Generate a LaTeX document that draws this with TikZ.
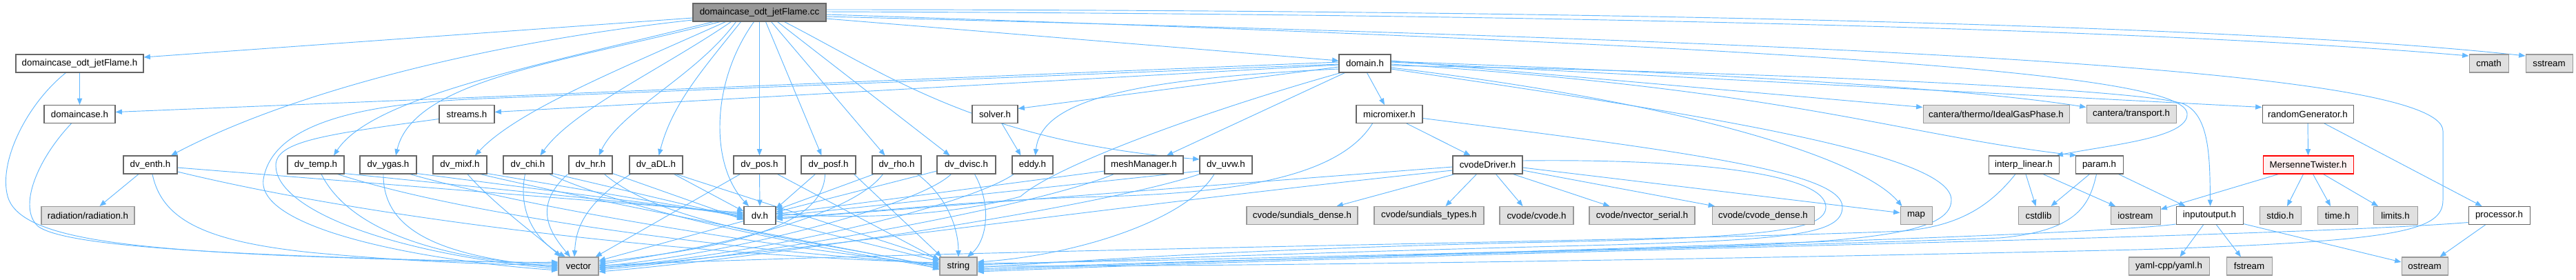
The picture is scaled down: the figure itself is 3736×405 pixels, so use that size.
\documentclass[tikz,border=0pt]{standalone}
\usepackage{fontspec}
\setmainfont{Liberation Sans}
\usetikzlibrary{calc,arrows.meta}
\definecolor{edgec}{HTML}{63B8FF}
\definecolor{bord}{HTML}{666666}
\definecolor{extb}{HTML}{999999}
\definecolor{extf}{HTML}{E0E0E0}
\definecolor{mainf}{HTML}{999999}
\definecolor{redf}{HTML}{FFF0F0}
\definecolor{redb}{HTML}{FF0000}
\pgfdeclarelayer{bg}
\pgfsetlayers{bg,main}
\begin{document}
\begin{tikzpicture}[x=0.75pt,y=-0.75pt,
  file/.style={draw=bord, fill=white, line width=0.8pt, minimum height=19.5pt, inner sep=0pt, font=\fontsize{10}{12}\selectfont, text=black},
  ext/.style={file, draw=extb, fill=extf},
  top/.style={file, fill=mainf},
  hot/.style={file, draw=redb, fill=redf},
  wd/.style={minimum width=#1*0.75pt},
  edge/.style={draw=edgec, line width=0.7pt, -{Triangle[length=7pt,width=5.5pt]}}]
\useasboundingbox (0,0) rectangle (3736,405);
% row 0
\node[top, wd=193] (cc) at (1101.5,18) {domaincase\_odt\_jetFlame.cc};
% row 1
\node[file, wd=185] (jfh) at (115.5,92) {domaincase\_odt\_jetFlame.h};
\node[file, wd=75] (domain) at (1979.5,92) {domain.h};
\node[ext, wd=57] (cmath) at (3609.5,92) {cmath};
\node[ext, wd=68] (sstream) at (3697,92) {sstream};
% row 2
\node[file, wd=103] (dcase) at (115.5,165.5) {domaincase.h};
\node[file, wd=80] (streams) at (677,165.5) {streams.h};
\node[file, wd=66] (solver) at (1443,165.5) {solver.h};
\node[file, wd=96] (micro) at (2015,165.5) {micromixer.h};
\node[ext, wd=212] (ideal) at (2895,165.5) {cantera/thermo/IdealGasPhase.h};
\node[ext, wd=130] (transport) at (3091,165.5) {cantera/transport.h};
\node[file, wd=132] (rgen) at (3347,165.5) {randomGenerator.h};
% row 3
\node[file, wd=78] (enth) at (218,239) {dv\_enth.h};
\node[file, wd=82] (temp) at (458,239) {dv\_temp.h};
\node[file, wd=82] (ygas) at (563,239) {dv\_ygas.h};
\node[file, wd=78] (mixf) at (667,239) {dv\_mixf.h};
\node[file, wd=71] (chi) at (765.5,239) {dv\_chi.h};
\node[file, wd=63] (hr) at (856.5,239) {dv\_hr.h};
\node[file, wd=77] (adl) at (951.5,239) {dv\_aDL.h};
\node[file, wd=75] (pos) at (1101.5,239) {dv\_pos.h};
\node[file, wd=79] (posf) at (1201.5,239) {dv\_posf.h};
\node[file, wd=71] (rho) at (1300.5,239) {dv\_rho.h};
\node[file, wd=85] (dvisc) at (1401.5,239) {dv\_dvisc.h};
\node[file, wd=59] (eddy) at (1497.5,239) {eddy.h};
\node[file, wd=114] (mesh) at (1659,239) {meshManager.h};
\node[file, wd=76] (uvw) at (1778,239) {dv\_uvw.h};
\node[file, wd=101] (cvd) at (2157.5,239) {cvodeDriver.h};
\node[file, wd=102] (interp) at (2935,239) {interp\_linear.h};
\node[file, wd=69] (param) at (3044.5,239) {param.h};
\node[hot, wd=131] (mt) at (3347.5,239) {MersenneTwister.h};
% row 4
\node[ext, wd=135] (rad) at (127.5,312.5) {radiation/radiation.h};
\node[file, wd=46] (dvh) at (1102,312.5) {dv.h};
\node[ext, wd=161] (sdense) at (1888.5,312.5) {cvode/sundials\_dense.h};
\node[ext, wd=159] (stypes) at (2072.5,312.5) {cvode/sundials\_types.h};
\node[ext, wd=107] (cvode) at (2228.5,312.5) {cvode/cvode.h};
\node[ext, wd=153] (nvec) at (2381.5,312.5) {cvode/nvector\_serial.h};
\node[ext, wd=148] (cdense) at (2557,312.5) {cvode/cvode\_dense.h};
\node[ext, wd=46] (map) at (2779,312.5) {map};
\node[ext, wd=59] (cstdlib) at (2956.5,312.5) {cstdlib};
\node[ext, wd=72] (iostream) at (3097,312.5) {iostream};
\node[file, wd=97] (io) at (3204.5,312.5) {inputoutput.h};
\node[ext, wd=60] (stdio) at (3307,312.5) {stdio.h};
\node[ext, wd=58] (timeh) at (3390,312.5) {time.h};
\node[ext, wd=64] (limits) at (3474,312.5) {limits.h};
\node[file, wd=89] (proc) at (3624.5,312.5) {processor.h};
% row 5
\node[ext, wd=58] (vector) at (839,386) {vector};
\node[ext, wd=54] (string) at (1390,386) {string};
\node[ext, wd=117] (yaml) at (3145.5,386) {yaml-cpp/yaml.h};
\node[ext, wd=66] (fstream) at (3262,386) {fstream};
\node[ext, wd=67] (ostream) at (3516.5,386) {ostream};

\begin{pgfonlayer}{bg}
% ---- domaincase_odt_jetFlame.cc
\draw[edge] ($(cc.west)+(0,8)$) -- ($(jfh.east)+(0,-9)$);
\draw[edge] ($(cc.west)+(0,11)$) .. controls (700,62) and (420,135) .. ($(enth.north)+(30,0)$);
\draw[edge] ($(cc.south west)+(30,0)$) .. controls (780,95) and (540,140) .. ($(temp.north)+(26,0)$);
\draw[edge] ($(cc.south west)+(40,0)$) .. controls (820,90) and (600,115) .. ($(ygas.north)+(11,0)$);
\draw[edge] ($(cc.south west)+(48,0)$) .. controls (900,100) and (750,160) .. ($(mixf.north)+(22,0)$);
\draw[edge] ($(cc.south west)+(56,0)$) .. controls (960,100) and (830,160) .. ($(chi.north)+(18,0)$);
\draw[edge] ($(cc.south west)+(63,0)$) .. controls (1010,110) and (900,160) .. ($(hr.north)+(12,0)$);
\draw[edge] ($(cc.south west)+(70,0)$) .. controls (1020,100) and (975,150) .. ($(adl.north)+(4,0)$);
\draw[edge] ($(cc.south)+(-8,0)$) .. controls (1030,120) and (1030,240) .. ($(dvh.north)+(-16,0)$);
\draw[edge] (cc.south) -- (pos.north);
\draw[edge] ($(cc.south)+(9,0)$) -- ($(posf.north)+(-10,0)$);
\draw[edge] ($(cc.south)+(17,0)$) -- ($(rho.north)+(-17,0)$);
\draw[edge] ($(cc.south)+(26,0)$) -- ($(dvisc.north)+(-24,0)$);
\draw[edge] ($(cc.south)+(36,0)$) .. controls (1290,110) and (1420,205) .. ($(uvw.west)+(0,-8)$);
\draw[edge] ($(cc.east)+(0,9)$) -- ($(domain.west)+(0,-4)$);
\draw[edge] ($(cc.east)+(0,-1)$) .. controls (2200,20) and (3100,40) .. ($(cmath.west)+(0,-11)$);
\draw[edge] ($(cc.east)+(0,-4)$) .. controls (2300,14) and (3250,36) .. ($(sstream.west)+(0,-11)$);
\draw[edge] ($(cc.east)+(0,3)$) .. controls (2700,70) and (3170,110) .. (3172,165) .. controls (3174,200) and (3060,210) .. ($(interp.north east)+(-4,0)$);
\draw[edge] ($(cc.east)+(0,6)$) .. controls (2600,60) and (3543,95) .. (3543,190) -- (3543,290) .. controls (3543,335) and (3480,350) .. (3100,362) .. controls (2400,378) and (1800,386) .. ($(string.east)+(0,0)$);
% ---- domaincase_odt_jetFlame.h
\draw[edge] (jfh.south) -- (dcase.north);
\draw[edge] ($(jfh.south west)+(73,0)$) .. controls (40,150) and (0,230) .. (10,280) .. controls (20,340) and (150,358) .. (400,370) .. controls (600,378) and (740,381) .. ($(vector.west)+(0,-6)$);
% ---- domaincase.h
\draw[edge] ($(dcase.south)+(-12,0)$) .. controls (55,230) and (25,300) .. (55,328) .. controls (100,362) and (400,372) .. ($(vector.west)+(0,-4)$);
% ---- streams.h
\draw[edge] ($(streams.west)+(0,7)$) .. controls (470,195) and (400,205) .. (400,240) .. controls (400,300) and (550,365) .. ($(vector.west)+(0,4)$);
% ---- dv_enth.h
\draw[edge] ($(enth.south)+(-17,0)$) -- ($(rad.north)+(17,0)$);
\draw[edge] ($(enth.south)+(3,0)$) .. controls (235,320) and (300,350) .. (450,366) .. controls (600,380) and (720,384) .. ($(vector.west)+(0,-2)$);
\draw[edge] ($(enth.east)+(0,4)$) -- ($(dvh.west)+(0,-4)$);
\draw[edge] ($(enth.east)+(0,10)$) .. controls (550,320) and (1000,370) .. ($(string.west)+(0,-5)$);
% ---- dv_temp.h
\draw[edge] ($(temp.south east)+(0,-1)$) -- ($(dvh.west)+(0,-2)$);
\draw[edge] ($(temp.south)+(8,0)$) .. controls (500,320) and (600,372) .. ($(vector.west)+(0,0)$);
\draw[edge] ($(temp.south east)+(-10,0)$) .. controls (700,320) and (1100,365) .. ($(string.west)+(0,-3)$);
% ---- dv_ygas.h
\draw[edge] ($(ygas.south east)+(0,-1)$) -- ($(dvh.west)+(0,0)$);
\draw[edge] ($(ygas.south)+(-7,0)$) .. controls (555,340) and (650,372) .. ($(vector.west)+(0,2)$);
\draw[edge] ($(ygas.south east)+(-10,0)$) .. controls (800,310) and (1150,360) .. ($(string.west)+(0,-1)$);
% ---- dv_mixf.h
\draw[edge] ($(mixf.south east)+(0,-1)$) -- ($(dvh.west)+(0,2)$);
\draw[edge] ($(mixf.south)+(11,0)$) .. controls (720,300) and (790,350) .. ($(vector.north)+(-26,0)$);
\draw[edge] ($(mixf.south east)+(-10,0)$) .. controls (900,300) and (1200,355) .. ($(string.west)+(0,1)$);
% ---- dv_chi.h
\draw[edge] ($(chi.south east)+(0,-1)$) -- ($(dvh.west)+(0,4)$);
\draw[edge] ($(chi.south)+(-4,0)$) .. controls (750,310) and (780,350) .. ($(vector.north)+(-19,0)$);
\draw[edge] ($(chi.south east)+(-5,0)$) .. controls (950,320) and (1200,360) .. ($(string.west)+(0,3)$);
% ---- dv_hr.h
\draw[edge] ($(hr.south east)+(0,-1)$) -- ($(dvh.west)+(0,6)$);
\draw[edge] ($(hr.south)+(-33,0)$) .. controls (770,300) and (800,340) .. ($(vector.north)+(-12,0)$);
\draw[edge] ($(hr.south)+(20,0)$) .. controls (980,340) and (1250,355) .. ($(string.west)+(0,5)$);
% ---- dv_aDL.h
\draw[edge] ($(adl.south east)+(-13,0)$) -- ($(dvh.west)+(0,-6)$);
\draw[edge] ($(adl.south west)+(2,0)$) .. controls (840,300) and (835,340) .. ($(vector.north)+(-6,0)$);
\draw[edge] ($(adl.south east)+(-10,0)$) -- ($(string.west)+(0,-10)$);
% ---- dv_pos.h
\draw[edge] (pos.south) -- (dvh.north);
\draw[edge] ($(pos.south west)+(10,0)$) -- ($(vector.north east)+(-5,0)$);
\draw[edge] ($(pos.south east)+(-12,0)$) -- ($(string.west)+(0,-9)$);
% ---- dv_posf.h
\draw[edge] ($(posf.south west)+(21,0)$) -- ($(dvh.east)+(0,-10)$);
\draw[edge] ($(posf.south)+(-5,0)$) .. controls (1195,330) and (1050,360) .. ($(vector.east)+(0,-6)$);
\draw[edge] ($(posf.south east)+(-3,0)$) -- ($(string.north west)+(3,0)$);
% ---- dv_rho.h
\draw[edge] ($(rho.south west)+(3,0)$) -- ($(dvh.east)+(0,-8)$);
\draw[edge] ($(rho.south)+(-20,0)$) .. controls (1230,320) and (1000,365) .. ($(vector.east)+(0,-3)$);
\draw[edge] ($(rho.south)+(30,0)$) .. controls (1380,290) and (1390,340) .. (string.north);
% ---- dv_dvisc.h
\draw[edge] ($(dvisc.west)+(0,9)$) -- ($(dvh.east)+(0,-5)$);
\draw[edge] ($(dvisc.south)+(-22,0)$) .. controls (1330,300) and (1050,370) .. ($(vector.east)+(0,0)$);
\draw[edge] ($(dvisc.south)+(12,0)$) .. controls (1440,300) and (1430,350) .. ($(string.north)+(13,0)$);
% ---- eddy.h / solver.h
\draw[edge] ($(eddy.south west)+(3,0)$) .. controls (1400,300) and (1100,370) .. ($(vector.east)+(0,2)$);
\draw[edge] ($(solver.south)+(10,0)$) -- ($(eddy.north)+(-17,0)$);
% ---- meshManager.h
\draw[edge] ($(mesh.west)+(0,9)$) -- ($(dvh.east)+(0,-2)$);
\draw[edge] ($(mesh.south west)+(14,0)$) .. controls (1500,300) and (1100,372) .. ($(vector.east)+(0,5)$);
% ---- dv_uvw.h
\draw[edge] ($(uvw.west)+(0,9)$) -- ($(dvh.east)+(0,1)$);
\draw[edge] (uvw.south west) .. controls (1600,300) and (1100,375) .. ($(vector.east)+(0,8)$);
\draw[edge] ($(uvw.south)+(-17,0)$) .. controls (1720,320) and (1560,370) .. ($(string.east)+(0,-6)$);
% ---- dv.h
\draw[edge] ($(dvh.west)+(0,8)$) -- ($(vector.east)+(0,-8)$);
\draw[edge] ($(dvh.east)+(0,8)$) -- ($(string.west)+(0,-7)$);
% ---- domain.h (left side)
\draw[edge] ($(domain.west)+(0,-2)$) -- ($(dcase.east)+(0,-3)$);
\draw[edge] ($(domain.west)+(0,2)$) -- ($(streams.east)+(0,-3)$);
\draw[edge] ($(domain.west)+(0,1)$) -- (700,143) .. controls (520,150) and (395,180) .. (382,260) .. controls (372,330) and (600,377) .. ($(vector.west)+(0,6)$);
\draw[edge] ($(domain.west)+(0,5)$) -- ($(solver.east)+(0,-8)$);
\draw[edge] ($(domain.west)+(0,8)$) .. controls (1620,115) and (1510,150) .. ($(eddy.north)+(4,0)$);
\draw[edge] ($(domain.south west)+(9,0)$) -- ($(mesh.north)+(33,0)$);
\draw[edge] ($(domain.south west)+(3,0)$) .. controls (1750,160) and (1530,240) .. (1480,285) .. controls (1350,320) and (1200,315) .. ($(dvh.east)+(0,-3)$);
% ---- domain.h (right side)
\draw[edge] ($(domain.south)+(3,0)$) -- ($(micro.north)+(-7,0)$);
\draw[edge] ($(domain.east)+(0,-4)$) -- ($(ideal.west)+(0,-10)$);
\draw[edge] ($(domain.east)+(0,-3)$) .. controls (2600,110) and (2900,135) .. ($(transport.west)+(0,-10)$);
\draw[edge] ($(domain.east)+(0,-2)$) -- ($(rgen.west)+(0,-10)$);
\draw[edge] ($(domain.east)+(0,1)$) .. controls (2600,130) and (2750,195) .. ($(param.north west)+(2,0)$);
\draw[edge] ($(domain.east)+(0,3)$) .. controls (2600,105) and (3100,130) .. (3165,150) .. controls (3205,165) and (3205,230) .. ($(io.north)+(1,0)$);
\draw[edge] ($(domain.east)+(0,6)$) .. controls (2450,150) and (2700,230) .. ($(map.north west)+(3,0)$);
\draw[edge] ($(domain.east)+(0,8)$) .. controls (2500,170) and (2830,225) .. (2830,290) .. controls (2830,340) and (2700,352) .. (2400,360) .. controls (2000,370) and (1600,380) .. ($(string.east)+(0,-4)$);
% ---- micromixer.h
\draw[edge] ($(micro.south)+(25,0)$) -- ($(cvd.north)+(-25,0)$);
\draw[edge] ($(micro.south west)+(24,0)$) .. controls (1940,260) and (1780,280) .. (1600,285) .. controls (1400,290) and (1250,310) .. ($(dvh.east)+(0,3)$);
\draw[edge] ($(micro.east)+(0,6)$) .. controls (2450,220) and (2672,250) .. (2672,300) .. controls (2672,340) and (2600,348) .. (2300,356) .. controls (1900,366) and (1600,378) .. ($(string.east)+(0,-2)$);
% ---- cvodeDriver.h
\draw[edge] ($(cvd.south west)+(3,0)$) -- ($(sdense.north)+(50,0)$);
\draw[edge] ($(cvd.south)+(-16,0)$) -- ($(stypes.north)+(24,0)$);
\draw[edge] ($(cvd.south)+(12,0)$) -- ($(cvode.north)+(-20,0)$);
\draw[edge] ($(cvd.south)+(37,0)$) -- ($(nvec.north)+(-47,0)$);
\draw[edge] ($(cvd.east)+(0,8)$) -- ($(cdense.north)+(-70,0)$);
\draw[edge] ($(cvd.east)+(0,4)$) -- ($(map.west)+(0,-4)$);
\draw[edge] ($(cvd.east)+(0,-6)$) .. controls (2480,230) and (2648,255) .. (2648,300) .. controls (2648,335) and (2560,345) .. (2200,352) .. controls (1800,362) and (1600,376) .. ($(string.east)+(0,2)$);
\draw[edge] ($(cvd.west)+(0,3)$) -- ($(dvh.east)+(0,5)$);
\draw[edge] ($(cvd.west)+(0,8)$) .. controls (1600,300) and (1200,360) .. ($(vector.east)+(0,3)$);
% ---- interp_linear.h
\draw[edge] ($(interp.south)+(3,0)$) -- ($(cstdlib.north)+(-4,0)$);
\draw[edge] ($(interp.south)+(28,0)$) -- ($(iostream.north)+(-29,0)$);
\draw[edge] ($(interp.south)+(-12,0)$) .. controls (2885,300) and (2840,328) .. (2760,335) .. controls (2400,350) and (1400,362) .. ($(vector.east)+(0,-1)$);
% ---- param.h
\draw[edge] ($(param.south)+(-14,0)$) -- ($(cstdlib.north)+(18,0)$);
\draw[edge] ($(param.south)+(28,0)$) -- ($(io.north)+(-35,0)$);
\draw[edge] ($(param.south)+(-4,0)$) .. controls (3030,300) and (3010,335) .. (2900,345) .. controls (2500,360) and (1700,378) .. ($(string.east)+(0,4)$);
% ---- inputoutput.h
\draw[edge] ($(io.south)+(-9,0)$) -- ($(yaml.north)+(16,0)$);
\draw[edge] ($(io.south)+(10,0)$) -- ($(fstream.north)+(-12,0)$);
\draw[edge] ($(io.east)+(0,12)$) -- ($(ostream.west)+(0,-6)$);
\draw[edge] ($(io.south west)+(0,-1)$) .. controls (3000,345) and (2000,368) .. ($(string.east)+(0,6)$);
% ---- processor.h
\draw[edge] ($(proc.south)+(-20,0)$) -- ($(ostream.north)+(22,0)$);
\draw[edge] ($(proc.west)+(0,10)$) .. controls (3300,345) and (2200,362) .. ($(string.east)+(0,8)$);
% ---- randomGenerator.h
\draw[edge] (rgen.south) -- (mt.north);
\draw[edge] ($(rgen.south)+(24,0)$) -- ($(proc.north)+(-25,0)$);
% ---- MersenneTwister.h
\draw[edge] ($(mt.south west)+(23,0)$) -- ($(iostream.east)+(0,-9)$);
\draw[edge] ($(mt.south)+(-7,0)$) -- ($(stdio.north)+(10,0)$);
\draw[edge] ($(mt.south)+(7,0)$) -- ($(timeh.north)+(-10,0)$);
\draw[edge] ($(mt.south)+(22,0)$) -- ($(limits.north)+(-25,0)$);
\end{pgfonlayer}
\end{tikzpicture}
\end{document}
